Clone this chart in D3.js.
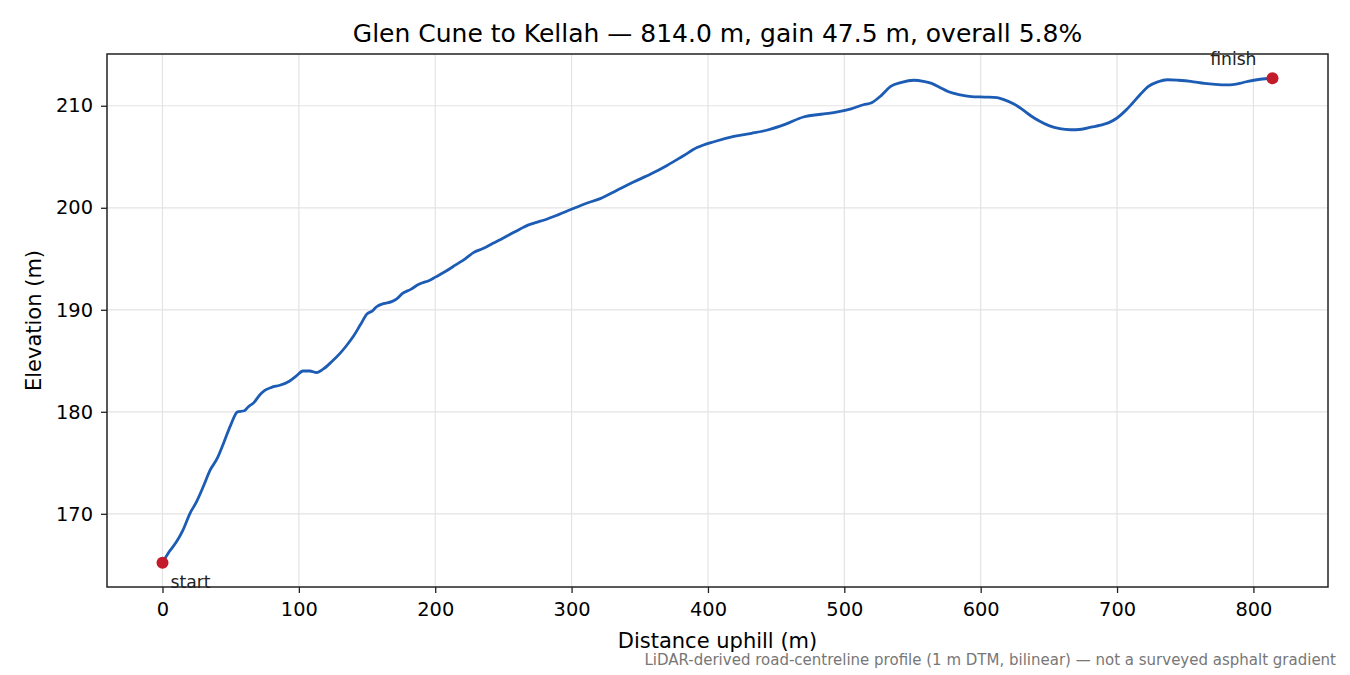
<!DOCTYPE html>
<html>
<head>
<meta charset="utf-8">
<script src="https://cdn.jsdelivr.net/npm/d3@7"></script>
<style>
  body { margin: 0; background: #fff; }
  svg { font-family: "DejaVu Sans", sans-serif; }
</style>
</head>
<body>
<svg id="profile" width="1350" height="675"></svg>
<script>
// distance along the road (m) and elevation (m)
const distance = [0, 5, 10, 15, 20, 25, 30, 35, 40, 45, 50, 55, 60, 63, 67, 71, 75, 80, 86, 93,
  98, 103, 108, 113, 118, 124, 130, 135, 140, 145, 150, 154, 157, 162, 168, 172, 176, 182, 188, 196,
  200, 208, 215, 222, 228, 235, 242, 248, 255, 262, 268, 275, 280, 290, 299, 310, 321, 333, 345, 358,
  370, 382, 392, 405, 419, 432, 443, 457, 470, 485, 495, 505, 514, 520, 527, 534, 542, 551, 558, 564,
  570, 576, 584, 593, 603, 612, 617, 624, 631, 637, 643, 650, 658, 666, 674, 681, 688, 694, 700, 706,
  711, 717, 723, 730, 737, 745, 754, 764, 772, 781, 790, 796, 805, 814];
const elevation = [165.2, 166.3, 167.2, 168.4, 170.0, 171.2, 172.7, 174.3, 175.4, 177.0, 178.7, 180.0, 180.1, 180.5, 180.9, 181.6, 182.1, 182.4, 182.6, 183.0,
  183.5, 184.0, 184.0, 183.85, 184.2, 184.9, 185.7, 186.5, 187.4, 188.5, 189.6, 189.9, 190.3, 190.6, 190.8, 191.1, 191.6, 192.0, 192.5, 192.9,
  193.2, 193.8, 194.4, 195.0, 195.6, 196.0, 196.5, 196.9, 197.4, 197.9, 198.3, 198.6, 198.8, 199.3, 199.8, 200.4, 200.9, 201.7, 202.5, 203.3,
  204.15, 205.1, 205.9, 206.5, 207.0, 207.3, 207.6, 208.2, 208.9, 209.2, 209.4, 209.7, 210.1, 210.3, 211.0, 211.9, 212.3, 212.5, 212.4, 212.2,
  211.8, 211.4, 211.1, 210.9, 210.85, 210.8, 210.6, 210.2, 209.6, 209.0, 208.5, 208.05, 207.75, 207.65, 207.7, 207.9, 208.1, 208.35, 208.8, 209.5,
  210.2, 211.1, 211.9, 212.35, 212.55, 212.5, 212.4, 212.2, 212.1, 212.05, 212.2, 212.4, 212.6, 212.7];

const xTicks = [0, 100, 200, 300, 400, 500, 600, 700, 800];
const yTicks = [170, 180, 190, 200, 210];
const endLabels = ['start', 'finish'];

const title = 'Glen Cune to Kellah \u2014 814.0 m, gain 47.5 m, overall 5.8%';
const note = 'LiDAR-derived road-centreline profile (1 m DTM, bilinear) \u2014 not a surveyed asphalt gradient';

const width = 1350;
const height = 675;
const margin = { top: 54, right: 22, bottom: 88, left: 107 };

const data = distance.map((d, i) => ({ d, e: elevation[i] }));

const svg = d3.select('#profile');

// matplotlib-style 5% padding around the data range
const xExt = d3.extent(distance);
const yExt = d3.extent(elevation);
const xPad = (xExt[1] - xExt[0]) * 0.05;
const yPad = (yExt[1] - yExt[0]) * 0.05;

const xScale = d3.scaleLinear()
  .domain([xExt[0] - xPad, xExt[1] + xPad])
  .range([margin.left, width - margin.right]);

const yScale = d3.scaleLinear()
  .domain([yExt[0] - yPad, yExt[1] + yPad])
  .range([height - margin.bottom, margin.top]);

// grid
const grid = svg.append('g').attr('stroke', '#e3e3e3').attr('stroke-width', 1.2);
grid.selectAll('.gx').data(xTicks).join('line')
  .attr('x1', d => xScale(d)).attr('x2', d => xScale(d))
  .attr('y1', margin.top).attr('y2', height - margin.bottom);
grid.selectAll('.gy').data(yTicks).join('line')
  .attr('x1', margin.left).attr('x2', width - margin.right)
  .attr('y1', d => yScale(d)).attr('y2', d => yScale(d));

// profile line
const line = d3.line()
  .x(d => xScale(d.d))
  .y(d => yScale(d.e))
  .curve(d3.curveMonotoneX);

svg.append('path')
  .datum(data)
  .attr('fill', 'none')
  .attr('stroke', '#1c5cb4')
  .attr('stroke-width', 2.8)
  .attr('stroke-linejoin', 'round')
  .attr('d', line);

// start / finish markers
const ends = [data[0], data[data.length - 1]];
svg.selectAll('.end').data(ends).join('circle')
  .attr('cx', d => xScale(d.d))
  .attr('cy', d => yScale(d.e))
  .attr('r', 6)
  .attr('fill', '#c41b2b');

svg.append('text')
  .attr('x', xScale(ends[0].d) + 8)
  .attr('y', yScale(ends[0].e) + 25)
  .attr('font-size', 17.2)
  .attr('fill', '#222')
  .text(endLabels[0]);

svg.append('text')
  .attr('x', xScale(ends[1].d) - 16)
  .attr('y', yScale(ends[1].e) - 13)
  .attr('text-anchor', 'end')
  .attr('font-size', 17.2)
  .attr('fill', '#222')
  .text(endLabels[1]);

// axes
const xAxis = svg.append('g')
  .attr('transform', `translate(0, ${height - margin.bottom})`)
  .call(d3.axisBottom(xScale).tickValues(xTicks).tickSize(6).tickPadding(9).tickSizeOuter(0));

const yAxis = svg.append('g')
  .attr('transform', `translate(${margin.left}, 0)`)
  .call(d3.axisLeft(yScale).tickValues(yTicks).tickSize(6).tickPadding(8).tickSizeOuter(0));

[xAxis, yAxis].forEach(g => {
  g.select('.domain').remove();
  g.selectAll('line').attr('stroke', '#222').attr('stroke-width', 1.3);
  g.selectAll('text').attr('font-size', 19.4).attr('fill', '#000').attr('font-family', '"DejaVu Sans", sans-serif');
});

// frame
svg.append('rect')
  .attr('x', margin.left)
  .attr('y', margin.top)
  .attr('width', width - margin.left - margin.right)
  .attr('height', height - margin.top - margin.bottom)
  .attr('fill', 'none')
  .attr('stroke', '#222')
  .attr('stroke-width', 1.5);

// labels
svg.append('text')
  .attr('x', (margin.left + width - margin.right) / 2)
  .attr('y', 42)
  .attr('text-anchor', 'middle')
  .attr('font-size', 25)
  .text(title);

svg.append('text')
  .attr('x', (margin.left + width - margin.right) / 2)
  .attr('y', 648)
  .attr('text-anchor', 'middle')
  .attr('font-size', 21)
  .text('Distance uphill (m)');

svg.append('text')
  .attr('transform', `translate(41, ${(margin.top + height - margin.bottom) / 2}) rotate(-90)`)
  .attr('text-anchor', 'middle')
  .attr('font-size', 21)
  .text('Elevation (m)');

svg.append('text')
  .attr('x', 1336)
  .attr('y', 665)
  .attr('text-anchor', 'end')
  .attr('font-size', 15)
  .attr('fill', '#777')
  .text(note);
</script>
</body>
</html>
